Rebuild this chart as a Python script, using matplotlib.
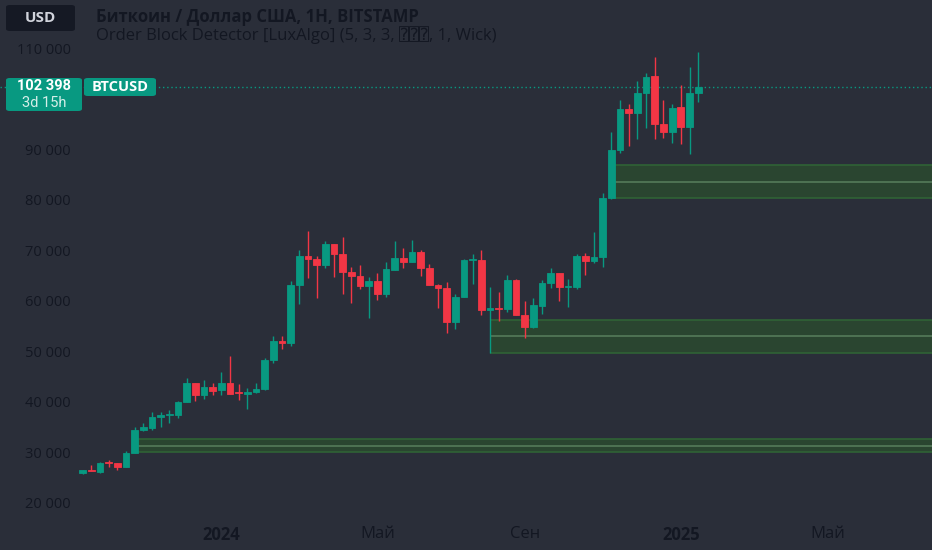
import numpy as np
import pandas as pd
import matplotlib
matplotlib.use('Agg')
import matplotlib.pyplot as plt
from matplotlib.patches import FancyBboxPatch, Rectangle

plt.rcParams['font.family'] = ['Open Sans', 'DejaVu Sans', 'DejaVu Sans Mono']

# weekly BTCUSD bars (first bar = week of 2023-09-11)
start_week = '2023-09-11'
opens = [25800, 26490, 26090, 28130, 27800, 27000, 29920, 34480, 34880, 37000,
         37400, 37320, 39980, 43750, 41290, 42960, 42220, 43800, 41830, 41570,
         42000, 42420, 48230, 52080, 51600, 63060, 68950, 68200, 67080, 71250,
         69260, 65700, 64840, 63000, 63990, 61330, 66170, 68410, 67620, 69600,
         66570, 63060, 62600, 55770, 60800, 68000, 68150, 58100, 58630, 58300,
         64190, 57240, 54780, 59030, 63510, 65580, 62720, 62720, 68950, 67880,
         68670, 80380, 89780, 97980, 97120, 101150, 104500, 95000, 93400, 98370,
         94340, 101150]
highs = [26500, 27400, 28070, 28530, 27800, 30320, 35080, 35870, 37920, 37900,
         38400, 40100, 44740, 43750, 44340, 43800, 45900, 49000, 43550, 42760,
         43750, 48570, 52940, 52940, 63990, 70140, 73770, 68870, 71800, 71250,
         72640, 66770, 67160, 64640, 65440, 67620, 71920, 70530, 71980, 70140,
         67220, 63250, 63800, 61400, 68350, 69340, 70000, 62720, 61730, 65040,
         64400, 59880, 60600, 64050, 66490, 65580, 64380, 69340, 69460, 73630,
         81370, 93400, 99700, 98970, 103600, 105180, 108350, 99760, 98900, 102740,
         106250, 109300]
lows = [25750, 26210, 25950, 27140, 26550, 27000, 29920, 34150, 34480, 34940,
        35700, 36800, 39850, 40100, 40500, 41300, 41400, 41500, 40240, 38500,
        41690, 42220, 47700, 50500, 50950, 59350, 64500, 60580, 66400, 64600,
        61270, 59600, 62300, 56570, 60140, 60670, 66170, 66570, 67620, 64980,
        63120, 58550, 53600, 54400, 60800, 63390, 57160, 49620, 55890, 57760,
        57240, 52600, 54580, 57440, 62600, 59880, 58750, 62400, 65040, 67480,
        66690, 80180, 89300, 90700, 92000, 94260, 92000, 92280, 91230, 91100,
        89100, 99370]
closes = [26490, 26210, 27940, 27800, 27140, 29920, 34420, 34940, 37000, 37320,
          37660, 39980, 43800, 41290, 43000, 42200, 43800, 41570, 41690, 42020,
          42480, 48310, 52080, 51690, 63060, 68950, 68210, 67080, 71250, 69260,
          65700, 64840, 63000, 63990, 61330, 66230, 68410, 67620, 69600, 66570,
          63120, 62600, 55770, 60800, 68080, 68200, 58100, 58630, 58300, 64190,
          57240, 54780, 59090, 63510, 65580, 62720, 62860, 68950, 67880, 68670,
          80380, 89840, 97980, 97180, 101150, 104380, 95000, 93400, 98230, 94340,
          101150, 102398]

# order blocks: (bar index, bottom, top)
ob_start = [6, 47, 61]
ob_bottom = [29980, 49700, 80350]
ob_top = [32620, 56200, 86820]

last_price = 102398
# 100 000 is hidden behind the last-price label in the original
yticks = [20000, 30000, 40000, 50000, 60000, 70000, 80000, 90000, 110000]
xtick_months = ['2024-01-01', '2024-05-01', '2024-09-01', '2025-01-01', '2025-05-01']
xtick_names = ['2024', 'Май', 'Сен', '2025', 'Май']

BG = '#2a2e39'
TXT = '#131722'
UP = '#089981'
DN = '#f23645'

o = np.array(opens); h = np.array(highs); l = np.array(lows); c = np.array(closes)
n = len(o)
x = np.arange(n)
up = c >= o
col = np.where(up, UP, DN)

fig = plt.figure(figsize=(9.32, 5.5), dpi=100, facecolor=BG)
ax = fig.add_axes([0, 0, 1, 1], facecolor=BG)

# order block zones
for s, b, t in zip(ob_start, ob_bottom, ob_top):
    ax.add_patch(Rectangle((s, b), 200, t - b, facecolor='#2a4530',
                           edgecolor='none', zorder=1))
    ax.hlines([b, t], s, s + 200, color='#2f6236', lw=1.2, zorder=1.5)
    ax.hlines((b + t) / 2, s, s + 200, color='#557a5a', lw=1.2, zorder=1.5)

# last price line
ax.axhline(last_price, color=UP, lw=1, ls=(0, (1, 2)), zorder=1.2)

# candles
ax.vlines(x, l, h, colors=col, lw=1.0, zorder=3)
ax.bar(x, np.abs(c - o), bottom=np.minimum(o, c), width=0.77, color=col,
       edgecolor=col, linewidth=0.6, zorder=4)

ax.set_xlim(-9.53, 97.97)
ax.set_ylim(10630, 119560)

# y ticks inside chart
ax.set_yticks(yticks)
ax.set_yticklabels([f'{v:,}'.replace(',', ' ') for v in yticks])
ax.tick_params(axis='y', length=0, pad=-51, labelsize=10.5, labelcolor=TXT)

# x ticks: first weekly bar of each month
weeks = pd.date_range(start_week, periods=120, freq='7D')
xt = [int(np.argmax(weeks >= pd.Timestamp(m))) for m in xtick_months]
ax.set_xticks(xt)
ax.set_xticklabels(xtick_names)
ax.tick_params(axis='x', length=0, pad=-17, labelsize=12, labelcolor=TXT)
for lab, name in zip(ax.get_xticklabels(), xtick_names):
    if name.isdigit():
        lab.set_fontweight('bold')

for sp in ax.spines.values():
    sp.set_visible(False)


def fb(x0, y0, x1, y1, color):
    W, H = 932, 550
    p = FancyBboxPatch((x0 / W, 1 - y1 / H), (x1 - x0) / W, (y1 - y0) / H,
                       boxstyle='round,pad=0,rounding_size=0.004',
                       transform=fig.transFigure, facecolor=color,
                       edgecolor='none', zorder=10)
    fig.patches.append(p)


def ft(px, py, s, **kw):
    fig.text(px / 932, 1 - py / 550, s, **kw)


# header
fb(6, 5, 75, 31, '#151924')
ft(40, 18, 'USD', ha='center', va='center', color='#d1d4dc', fontsize=11,
   fontweight='bold', zorder=11)
ft(96, 17, 'Биткоин / Доллар США, 1Н, BITSTAMP', ha='left', va='center',
   color=TXT, fontsize=12, fontweight='bold')
ft(96, 35, 'Order Block Detector [LuxAlgo] (5, 3, 3, \u2370\u2370\u2370, 1, Wick)',
   ha='left', va='center', color=TXT, fontsize=12)

# price labels
fb(6, 78, 82, 111, UP)
ft(44, 86, '102 398', ha='center', va='center', color='white', fontsize=10.5,
   fontweight='bold', family='Roboto', zorder=11)
ft(44, 103, '3d 15h', ha='center', va='center', color='#d6efe9', fontsize=10.5,
   family='Roboto', zorder=11)
fb(84, 78, 156, 96, UP)
ft(120, 87, 'BTCUSD', ha='center', va='center', color='white', fontsize=10.5,
   fontweight='bold', zorder=11)

fig.savefig('out.png', dpi=100, facecolor=BG)
